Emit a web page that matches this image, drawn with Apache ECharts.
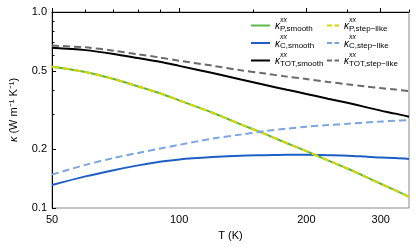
<!DOCTYPE html>
<html>
<head>
<meta charset="utf-8">
<script src="https://cdn.jsdelivr.net/npm/echarts@6/dist/echarts.min.js"></script>
<style>html,body{margin:0;padding:0;background:#fff}#c{width:416px;height:250px}</style>
</head>
<body>
<div id="c"></div>
<script>
// ---- data ----
var temps = [50, 60, 70, 80, 90, 100, 120, 140, 160, 180, 200, 225, 250, 275, 300, 325, 350];
var kP_smooth  = [0.526, 0.494, 0.455, 0.417, 0.385, 0.354, 0.306, 0.267, 0.238, 0.214, 0.195, 0.175, 0.159, 0.145, 0.133, 0.123, 0.114];
var kP_step    = [0.526, 0.494, 0.455, 0.417, 0.385, 0.354, 0.306, 0.267, 0.238, 0.214, 0.195, 0.175, 0.159, 0.145, 0.133, 0.123, 0.114];
var kC_smooth  = [0.131, 0.145, 0.156, 0.165, 0.172, 0.177, 0.182, 0.185, 0.186, 0.187, 0.187, 0.186, 0.185, 0.183, 0.181, 0.180, 0.178];
var kC_step    = [0.148, 0.166, 0.180, 0.191, 0.201, 0.210, 0.226, 0.237, 0.247, 0.254, 0.260, 0.265, 0.269, 0.273, 0.276, 0.279, 0.281];
var kT_smooth  = [0.657, 0.639, 0.611, 0.582, 0.557, 0.531, 0.488, 0.452, 0.424, 0.401, 0.382, 0.361, 0.344, 0.328, 0.314, 0.303, 0.292];
var kT_step    = [0.674, 0.660, 0.635, 0.608, 0.586, 0.564, 0.532, 0.504, 0.485, 0.468, 0.455, 0.440, 0.428, 0.418, 0.409, 0.402, 0.395];
var xRange = [50, 350];
var yRange = [0.1, 1.0];
var xTickLabels = [50, 100, 200, 300];
var xMinorTicks = [60, 70, 80, 90, 150, 250, 350];
var yTickLabels = [0.1, 0.2, 0.5, 1.0];
var yMinorTicks = [0.3, 0.4, 0.6, 0.7, 0.8, 0.9];
var seriesNames = ['P,smooth', 'P,step−like', 'C,smooth', 'C,step−like', 'TOT,smooth', 'TOT,step−like'];

// ---- build ----
var L = Math.log10;
function pts(arr) { return temps.map(function (t, i) { return [L(t), L(arr[i])]; }); }
var FONT = 'Liberation Sans, Arial, sans-serif';

function mk(name, arr, color, dashed, z) {
  return {
    name: name, type: 'line', data: pts(arr), showSymbol: false, symbol: 'none',
    smooth: 0.3, z: z, xAxisIndex: 0, yAxisIndex: 0,
    lineStyle: { color: color, width: 2, type: dashed ? [7, 4] : 'solid' },
    itemStyle: { color: color }
  };
}

var richStyle = {
  h: { fontSize: 10, color: 'rgba(0,0,0,0)', fontFamily: FONT, lineHeight: 3 },
  sup: { fontSize: 7, fontStyle: 'italic', color: '#000', fontFamily: FONT, lineHeight: 3 },
  k: { fontSize: 10, fontStyle: 'italic', color: '#000', fontFamily: FONT, lineHeight: 11, verticalAlign: 'top' },
  sub: { fontSize: 8, color: '#000', fontFamily: FONT, lineHeight: 8, verticalAlign: 'bottom' }
};
function fmt(name) { return '{h|κ}{sup|xx}\n{k|κ}{sub|' + name + '}'; }

function legendFor(names, left, w, dash) {
  var o = {
    data: names, orient: 'vertical', left: left, top: 15, padding: 0,
    itemWidth: w, itemHeight: 8, itemGap: 0, itemStyle: { opacity: 0 },
    formatter: fmt, textStyle: { rich: richStyle }
  };
  if (dash) o.lineStyle = { type: dash };
  return o;
}

var chart = echarts.init(document.getElementById('c'), null, { renderer: 'canvas' });
chart.setOption({
  animation: false,
  textStyle: { fontFamily: FONT },
  grid: { left: 52, right: 7, top: 12, bottom: 42, show: true, borderColor: '#8a8a8a', borderWidth: 1, backgroundColor: 'transparent' },
  legend: [
    legendFor([seriesNames[0], seriesNames[2], seriesNames[4]], 250, 19, null),
    legendFor([seriesNames[1], seriesNames[3], seriesNames[5]], 326, 12, [5, 2.5])
  ],
  xAxis: [
    {
      type: 'value', min: L(xRange[0]), max: L(xRange[1]),
      name: 'T (K)', nameLocation: 'middle', nameGap: 22,
      nameTextStyle: { fontSize: 11, color: '#000', fontFamily: FONT },
      axisLine: { show: true, lineStyle: { color: '#000', width: 1 } },
      axisTick: { show: true, inside: true, length: 4, customValues: xTickLabels.map(L), lineStyle: { color: '#000' } },
      axisLabel: { show: true, customValues: xTickLabels.map(L), margin: 6, fontSize: 11, color: '#000', fontFamily: FONT,
        formatter: function (v) { return String(Math.round(Math.pow(10, v))); } },
      splitLine: { show: false }
    },
    {
      type: 'value', min: L(xRange[0]), max: L(xRange[1]), position: 'bottom',
      axisLine: { show: false },
      axisTick: { show: true, inside: true, length: 2.5, customValues: xMinorTicks.map(L), lineStyle: { color: '#000' } },
      axisLabel: { show: false }, splitLine: { show: false }
    }
  ],
  yAxis: [
    {
      type: 'value', min: L(yRange[0]), max: L(yRange[1]),
      name: '{i|κ} (W m⁻¹ K⁻¹)', nameLocation: 'middle', nameGap: 33, nameRotate: 90,
      nameTextStyle: { fontSize: 11, color: '#000', fontFamily: FONT,
        rich: { i: { fontSize: 11, fontStyle: 'italic', color: '#000', fontFamily: FONT } } },
      axisLine: { show: true, lineStyle: { color: '#000', width: 1 } },
      axisTick: { show: true, inside: true, length: 4, customValues: yTickLabels.map(L), lineStyle: { color: '#000' } },
      axisLabel: { show: true, customValues: yTickLabels.map(L), margin: 5, fontSize: 11, color: '#000', fontFamily: FONT,
        formatter: function (v) { return Math.pow(10, v).toFixed(1); } },
      splitLine: { show: false }
    },
    {
      type: 'value', min: L(yRange[0]), max: L(yRange[1]), position: 'left',
      axisLine: { show: false },
      axisTick: { show: true, inside: true, length: 2.5, customValues: yMinorTicks.map(L), lineStyle: { color: '#000' } },
      axisLabel: { show: false }, splitLine: { show: false }
    }
  ],
  series: [
    mk(seriesNames[0], kP_smooth, '#5db849', false, 2),
    mk(seriesNames[2], kC_smooth, '#1e5fc6', false, 2),
    mk(seriesNames[4], kT_smooth, '#000000', false, 2),
    mk(seriesNames[1], kP_step, '#d6d600', true, 3),
    mk(seriesNames[3], kC_step, '#7ba5e0', true, 3),
    mk(seriesNames[5], kT_step, '#6a6a6a', true, 3)
  ]
});
</script>
</body>
</html>
